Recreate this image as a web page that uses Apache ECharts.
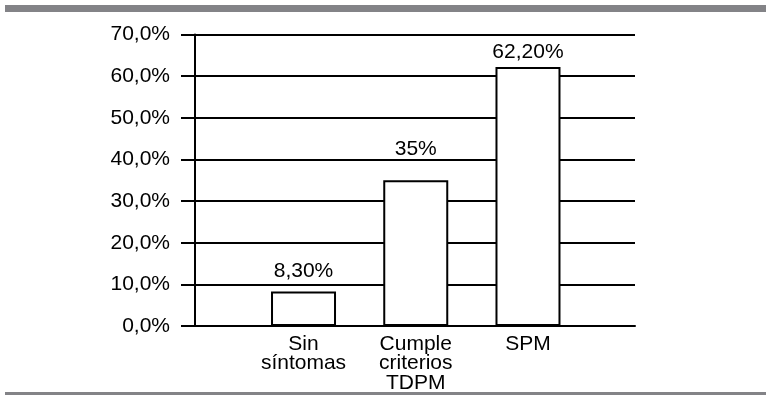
<!DOCTYPE html>
<html>
<head>
<meta charset="utf-8">
<script src="https://cdn.jsdelivr.net/npm/echarts@6/dist/echarts.min.js"></script>
<style>
  html, body { margin: 0; padding: 0; background: #ffffff; }
  #chart { width: 766px; height: 395px; }
</style>
</head>
<body>
<div id="chart"></div>
<script>
// Categories and percentages
const categories = ['Sin\nsíntomas', 'Cumple\ncriterios\nTDPM', 'SPM'];
const values = [8.3, 35, 62.2];
const valueLabels = ['8,30%', '35%', '62,20%'];
const yTicks = [0, 10, 20, 30, 40, 50, 60, 70];

const FONT = '"Liberation Sans", Arial, sans-serif';
const FS = 21;
const chart = echarts.init(document.getElementById('chart'), null, { renderer: 'canvas' });

// Per-bar gap between bar top and its value label
const labelGap = [10, 21, 4];

const yMin = yTicks[0];
const yMax = yTicks[yTicks.length - 1];
const yStep = yTicks[1] - yTicks[0];

chart.setOption({
  backgroundColor: '#ffffff',
  animation: false,
  graphic: [
    { type: 'rect', shape: { x: 5, y: 5, width: 761, height: 7 }, style: { fill: '#838387' } },
    { type: 'rect', shape: { x: 5, y: 392, width: 761, height: 3 }, style: { fill: '#838387' } }
  ],
  grid: [
    { left: 195, right: 131, top: 34.5, bottom: 69 },
    { left: 247.4, right: 181.9, top: 34.5, bottom: 69 }
  ],
  xAxis: [
    {
      gridIndex: 0, type: 'value', min: 0, max: 1,
      axisLine: { show: true, lineStyle: { color: '#000', width: 2 } },
      axisTick: { show: false }, axisLabel: { show: false }, splitLine: { show: false }
    },
    {
      gridIndex: 1, type: 'category', data: categories,
      axisLine: { show: false }, axisTick: { show: false },
      axisLabel: {
        color: '#000', fontFamily: FONT, fontSize: FS, lineHeight: 19.5,
        margin: 8, interval: 0, align: 'center'
      }
    }
  ],
  yAxis: [
    {
      gridIndex: 0, type: 'value', min: yMin, max: yMax, interval: yStep,
      axisLine: { show: true, lineStyle: { color: '#000', width: 2 } },
      axisTick: { show: true, length: 14, lineStyle: { color: '#000', width: 2 } },
      axisLabel: {
        color: '#000', fontFamily: FONT, fontSize: FS, margin: 25,
        formatter: v => v.toFixed(1).replace('.', ',') + '%'
      },
      splitLine: { show: true, lineStyle: { color: '#000', width: 2 } }
    },
    {
      gridIndex: 1, type: 'value', min: yMin, max: yMax, interval: yStep, show: false,
      splitLine: { show: false }
    }
  ],
  series: [{
    type: 'bar',
    xAxisIndex: 1, yAxisIndex: 1,
    barWidth: 65,
    z: 5,
    itemStyle: { color: '#ffffff', borderColor: '#000', borderWidth: 2 },
    data: values.map((v, i) => ({
      value: v,
      label: {
        show: true, position: 'top', distance: labelGap[i],
        formatter: valueLabels[i],
        color: '#000', fontFamily: FONT, fontSize: FS
      }
    }))
  }]
});
</script>
</body>
</html>
